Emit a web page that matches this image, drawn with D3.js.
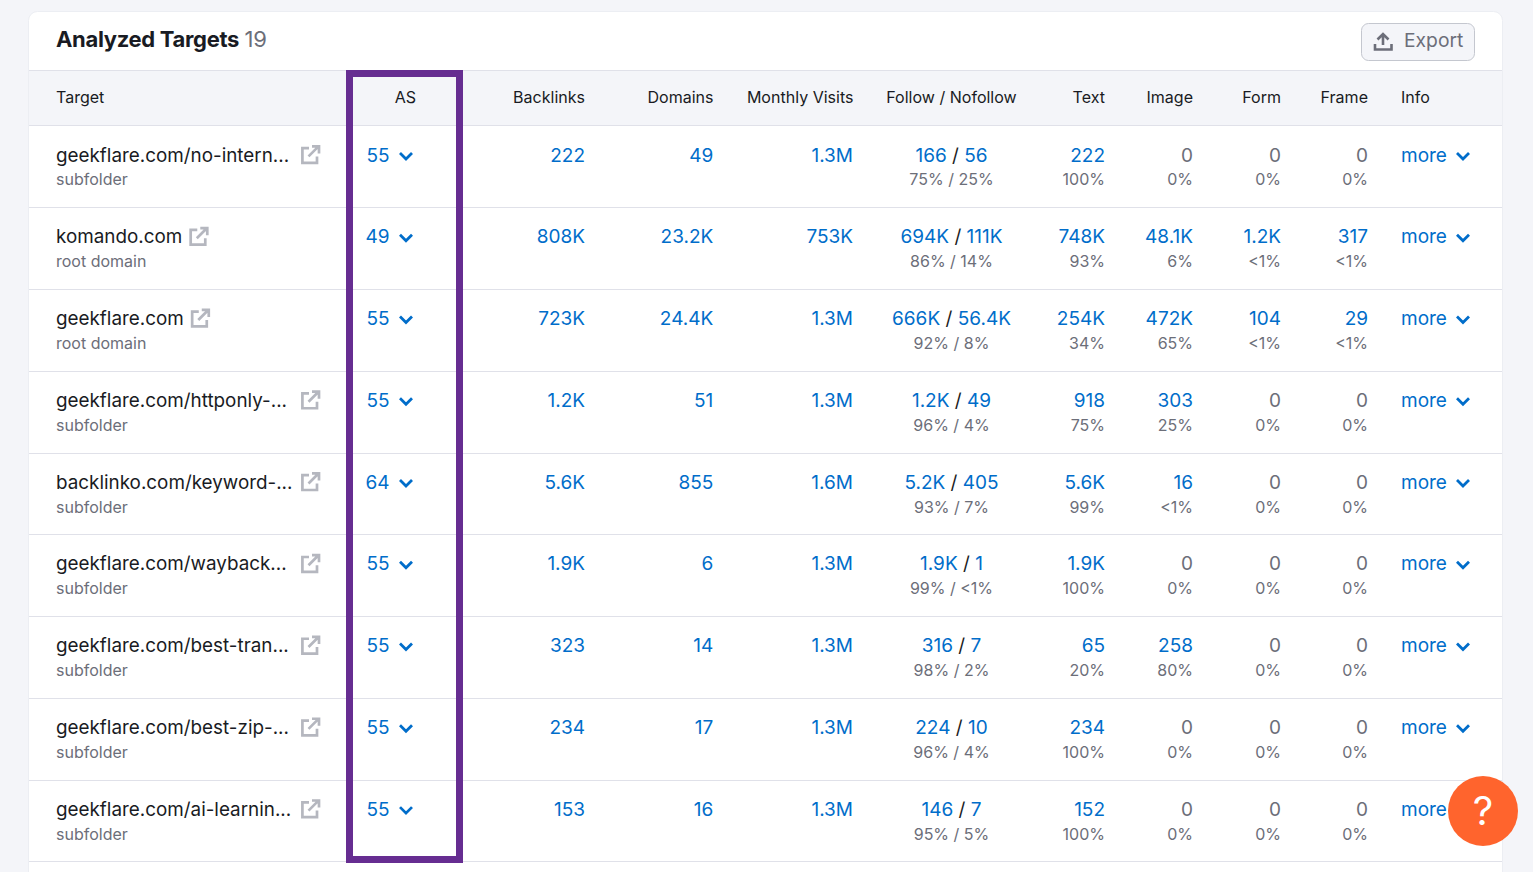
<!DOCTYPE html>
<html>
<head>
<meta charset="utf-8">
<script src="https://cdn.jsdelivr.net/npm/d3@7"></script>
<style>
html, body { margin: 0; padding: 0; background: #f4f5f9; overflow: hidden; }
svg { display: block; font-family: Inter, "Noto Sans", sans-serif; }
</style>
</head>
<body>
<div id="wrapper"></div>
<script>
// table values
const columns = ["Target", "AS", "Backlinks", "Domains", "Monthly Visits", "Follow / Nofollow", "Text", "Image", "Form", "Frame", "Info"];
const targets = ["geekflare.com/no-intern...", "komando.com", "geekflare.com", "geekflare.com/httponly-...", "backlinko.com/keyword-...", "geekflare.com/wayback...", "geekflare.com/best-tran...", "geekflare.com/best-zip-...", "geekflare.com/ai-learnin..."];
const targetTypes = ["subfolder", "root domain", "root domain", "subfolder", "subfolder", "subfolder", "subfolder", "subfolder", "subfolder"];
const asScores = [55, 49, 55, 55, 64, 55, 55, 55, 55];
const backlinks = ["222", "808K", "723K", "1.2K", "5.6K", "1.9K", "323", "234", "153"];
const domains = ["49", "23.2K", "24.4K", "51", "855", "6", "14", "17", "16"];
const visits = ["1.3M", "753K", "1.3M", "1.3M", "1.6M", "1.3M", "1.3M", "1.3M", "1.3M"];
const follow = ["166", "694K", "666K", "1.2K", "5.2K", "1.9K", "316", "224", "146"];
const nofollow = ["56", "111K", "56.4K", "49", "405", "1", "7", "10", "7"];
const followPct = ["75% / 25%", "86% / 14%", "92% / 8%", "96% / 4%", "93% / 7%", "99% / <1%", "98% / 2%", "96% / 4%", "95% / 5%"];
const textVals = ["222", "748K", "254K", "918", "5.6K", "1.9K", "65", "234", "152"];
const textPct = ["100%", "93%", "34%", "75%", "99%", "100%", "20%", "100%", "100%"];
const imageVals = ["0", "48.1K", "472K", "303", "16", "0", "258", "0", "0"];
const imagePct = ["0%", "6%", "65%", "25%", "<1%", "0%", "80%", "0%", "0%"];
const formVals = ["0", "1.2K", "104", "0", "0", "0", "0", "0", "0"];
const formPct = ["0%", "<1%", "<1%", "0%", "0%", "0%", "0%", "0%", "0%"];
const frameVals = ["0", "317", "29", "0", "0", "0", "0", "0", "0"];
const framePct = ["0%", "<1%", "<1%", "0%", "0%", "0%", "0%", "0%", "0%"];

const BLUE = "#006dca", DARK = "#191b23", GRAY = "#6c6e79", LINE = "#e0e1e9";
const width = 1533, height = 872;
const MAIN_Y = 35.7, SUB_Y = 59.5;

const svg = d3.select("#wrapper").append("svg")
    .attr("width", width)
    .attr("height", height);

// rows share one linear scale, row 0 top edge to row 9 top edge
const rowY = d3.scaleLinear().domain([0, 9]).range([125.9, 861.9]);

// card
svg.append("rect")
    .attr("x", 28.5).attr("y", 11.5)
    .attr("width", 1474).attr("height", 900)
    .attr("rx", 9)
    .attr("fill", "#fff")
    .attr("stroke", "#eceef3");

// header strip
svg.append("rect")
    .attr("x", 29).attr("y", 70)
    .attr("width", 1473).attr("height", 55)
    .attr("fill", "#f4f5f9");
svg.append("line")
    .attr("x1", 29).attr("x2", 1502).attr("y1", 70.5).attr("y2", 70.5)
    .attr("stroke", LINE);

// title
const title = svg.append("text")
    .attr("x", 56).attr("y", 47)
    .attr("font-size", 22);
title.append("tspan").attr("font-weight", 700).attr("fill", DARK).attr("letter-spacing", -0.32).text("Analyzed Targets");
title.append("tspan").attr("fill", GRAY).attr("dx", 5.5).attr("letter-spacing", -0.3).text("19");

// export button
svg.append("rect")
    .attr("x", 1361.5).attr("y", 23.5)
    .attr("width", 113).attr("height", 37)
    .attr("rx", 7)
    .attr("fill", "#f4f5f9")
    .attr("stroke", "#c4c7cf");
svg.append("path")
    .attr("d", "M1383 45V35M1377.5 39.5L1383 34L1388.5 39.5M1375 44V49.5H1391.5V44")
    .attr("fill", "none")
    .attr("stroke", GRAY)
    .attr("stroke-width", 2.6);
svg.append("text")
    .attr("x", 1404).attr("y", 47)
    .attr("font-size", 19.3)
    .attr("fill", GRAY)
    .text("Export");

// column headers
const headerX = [56, 405.5, 585, 713.5, 853.5, 951.5, 1105, 1193, 1281, 1368, 1401];
const headerAnchor = ["start", "middle", "end", "end", "end", "middle", "end", "end", "end", "end", "start"];
svg.append("g").selectAll("text")
    .data(columns)
    .join("text")
    .attr("x", (d, i) => headerX[i])
    .attr("y", 103)
    .attr("text-anchor", (d, i) => headerAnchor[i])
    .attr("font-size", 16.05)
    .attr("fill", DARK)
    .text(d => d);

// row lines
svg.append("g").selectAll("line")
    .data(d3.range(0, 10))
    .join("line")
    .attr("x1", 29).attr("x2", 1502)
    .attr("y1", d => Math.floor(rowY(d)) + 0.5)
    .attr("y2", d => Math.floor(rowY(d)) + 0.5)
    .attr("stroke", LINE);

const rows = svg.append("g").selectAll("g")
    .data(targets)
    .join("g")
    .attr("transform", (d, i) => `translate(0, ${rowY(i)})`);

// target name + type
const names = rows.append("text")
    .attr("x", 56).attr("y", MAIN_Y)
    .attr("font-size", 18.85)
    .attr("fill", DARK)
    .text(d => d);
rows.append("text")
    .attr("x", 56).attr("y", SUB_Y)
    .attr("font-size", 16)
    .attr("fill", GRAY)
    .text((d, i) => targetTypes[i]);

// external link icon: truncated names keep a fixed slot, short ones follow the text
names.each(function(d) {
    const x = d.endsWith("...") ? 301 : 56 + this.getComputedTextLength() + 7;
    d3.select(this.parentNode).append("path")
        .attr("transform", `translate(${x}, 19)`)
        .attr("d", "M8 3.2H1.4V18H16V11.5M7.5 11.5L17 2M11 1.4H18V8.5")
        .attr("fill", "none")
        .attr("stroke", "#b5b7bf")
        .attr("stroke-width", 2.7);
});

// chevron helper
function chevron(sel, x) {
    sel.append("path")
        .attr("transform", `translate(${x}, 29.5)`)
        .attr("d", "M-6 -2.5L0 3.5L6 -2.5")
        .attr("fill", "none")
        .attr("stroke", BLUE)
        .attr("stroke-width", 2.8);
}

// AS score
rows.append("text")
    .attr("x", 389.5).attr("y", MAIN_Y)
    .attr("text-anchor", "end")
    .attr("font-size", 19)
    .attr("fill", BLUE)
    .text((d, i) => asScores[i]);
chevron(rows, 406);

// plain blue number columns
const numberCols = [[585, backlinks], [713.3, domains], [853, visits]];
numberCols.forEach(([x, vals]) => {
    rows.append("text")
        .attr("x", x).attr("y", MAIN_Y)
        .attr("text-anchor", "end")
        .attr("font-size", 19)
        .attr("fill", BLUE)
        .text((d, i) => vals[i]);
});

// follow / nofollow
const followText = rows.append("text")
    .attr("x", 951.5).attr("y", MAIN_Y)
    .attr("text-anchor", "middle")
    .attr("font-size", 19);
followText.append("tspan").attr("fill", BLUE).text((d, i) => follow[i]);
followText.append("tspan").attr("fill", DARK).text(" / ");
followText.append("tspan").attr("fill", BLUE).text((d, i) => nofollow[i]);
rows.append("text")
    .attr("x", 951.5).attr("y", SUB_Y)
    .attr("text-anchor", "middle")
    .attr("font-size", 16)
    .attr("fill", GRAY)
    .text((d, i) => followPct[i]);

// value + percent columns, zero stays gray
const pctCols = [[1105, textVals, textPct], [1193, imageVals, imagePct], [1281, formVals, formPct], [1368, frameVals, framePct]];
pctCols.forEach(([x, vals, pcts]) => {
    rows.append("text")
        .attr("x", x).attr("y", MAIN_Y)
        .attr("text-anchor", "end")
        .attr("font-size", 19)
        .attr("fill", (d, i) => vals[i] === "0" ? GRAY : BLUE)
        .text((d, i) => vals[i]);
    rows.append("text")
        .attr("x", x).attr("y", SUB_Y)
        .attr("text-anchor", "end")
        .attr("font-size", 16)
        .attr("fill", GRAY)
        .text((d, i) => pcts[i]);
});

// info
rows.append("text")
    .attr("x", 1401).attr("y", MAIN_Y)
    .attr("font-size", 19)
    .attr("fill", BLUE)
    .text("more");
chevron(rows, 1463);

// purple highlight round the AS column
svg.append("rect")
    .attr("x", 349.5).attr("y", 73.5)
    .attr("width", 110).attr("height", 786)
    .attr("fill", "none")
    .attr("stroke", "#662d91")
    .attr("stroke-width", 7);

// help bubble
svg.append("circle")
    .attr("cx", 1483).attr("cy", 811).attr("r", 35)
    .attr("fill", "#ff642d");
svg.append("text")
    .attr("x", 1483).attr("y", 825)
    .attr("text-anchor", "middle")
    .attr("font-size", 40)
    .attr("fill", "#fff")
    .text("?");
</script>
</body>
</html>
